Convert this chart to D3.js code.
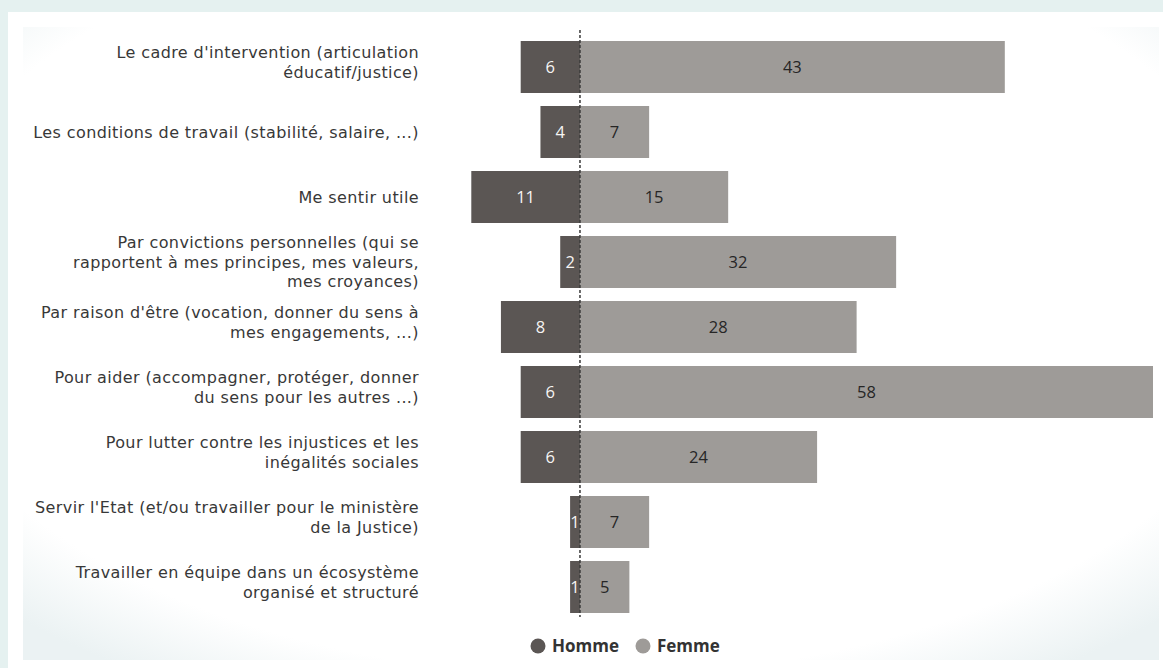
<!DOCTYPE html>
<html>
<head>
<meta charset="utf-8">
<script src="https://cdn.jsdelivr.net/npm/d3@7"></script>
<style>
  html, body { margin: 0; padding: 0; background: #e5f1f0; }
  svg { display: block; }
</style>
</head>
<body>
<svg id="chart" width="1163" height="668"></svg>
<script>
const categories = [
  "Le cadre d'intervention (articulation\néducatif/justice)",
  "Les conditions de travail (stabilité, salaire, ...)",
  "Me sentir utile",
  "Par convictions personnelles (qui se\nrapportent à mes principes, mes valeurs,\nmes croyances)",
  "Par raison d'être (vocation, donner du sens à\nmes engagements, ...)",
  "Pour aider (accompagner, protéger, donner\ndu sens pour les autres ...)",
  "Pour lutter contre les injustices et les\ninégalités sociales",
  "Servir l'Etat (et/ou travailler pour le ministère\nde la Justice)",
  "Travailler en équipe dans un écosystème\norganisé et structuré"
];
const homme = [6, 4, 11, 2, 8, 6, 6, 1, 1];
const femme = [43, 7, 15, 32, 28, 58, 24, 7, 5];
const seriesNames = ["Homme", "Femme"];
const colors = ["#5b5654", "#9e9b98"];

const svg = d3.select("#chart");
const W = 1163, H = 668;

const defs = svg.append("defs");
const rg = defs.append("radialGradient").attr("id", "vign")
  .attr("cx", "50%").attr("cy", "42%").attr("r", "72%");
rg.append("stop").attr("offset", "0%").attr("stop-color", "#ffffff");
rg.append("stop").attr("offset", "84%").attr("stop-color", "#ffffff");
rg.append("stop").attr("offset", "100%").attr("stop-color", "#ebf2f3");

svg.append("rect").attr("x", 0).attr("y", 0).attr("width", W).attr("height", H).attr("fill", "#e5f1f0");
svg.append("rect").attr("x", 8).attr("y", 12).attr("width", W - 8).attr("height", H - 12).attr("fill", "#ffffff");
svg.append("rect").attr("x", 23).attr("y", 27).attr("width", 1136).attr("height", 633).attr("fill", "url(#vign)");

const x = d3.scaleLinear().domain([-11, 58]).range([471.3, 1153]);
const y = d3.scaleBand().domain(categories).range([34.5, 619.5]).paddingInner(0.2).paddingOuter(0.1);

const g = svg.append("g");
const rows = categories.map((c, i) => ({ c, h: homme[i], f: femme[i] }));
const font = "'Open Sans', sans-serif";
const labFont = "'DejaVu Sans', sans-serif";

g.selectAll("rect.h").data(rows).join("rect")
  .attr("class", "h")
  .attr("x", d => x(-d.h)).attr("y", d => y(d.c))
  .attr("width", d => x(0) - x(-d.h)).attr("height", y.bandwidth())
  .attr("fill", colors[0]);
g.selectAll("rect.f").data(rows).join("rect")
  .attr("class", "f")
  .attr("x", x(0)).attr("y", d => y(d.c))
  .attr("width", d => x(d.f) - x(0)).attr("height", y.bandwidth())
  .attr("fill", colors[1]);

g.selectAll("text.hv").data(rows).join("text")
  .attr("class", "hv")
  .attr("x", d => (x(-d.h) + x(0)) / 2)
  .attr("y", d => y(d.c) + y.bandwidth() / 2)
  .attr("dy", "0.36em").attr("text-anchor", "middle")
  .attr("font-family", font).attr("font-size", 16.5)
  .attr("fill", "#f6f4f3")
  .text(d => d.h);
g.selectAll("text.fv").data(rows).join("text")
  .attr("class", "fv")
  .attr("x", d => (x(d.f) + x(0)) / 2)
  .attr("y", d => y(d.c) + y.bandwidth() / 2)
  .attr("dy", "0.36em").attr("text-anchor", "middle")
  .attr("font-family", font).attr("font-size", 16.5)
  .attr("fill", "#262626")
  .text(d => d.f);

g.append("line")
  .attr("x1", x(0)).attr("x2", x(0))
  .attr("y1", 30).attr("y2", 617)
  .attr("stroke", "#3a3a3a").attr("stroke-width", 1.5)
  .attr("stroke-dasharray", "3,2");

const lineH = 19.5;
categories.forEach(c => {
  const lines = c.split("\n");
  const n = lines.length;
  const cy = y(c) + y.bandwidth() / 2 - (n === 2 ? 5 : 0);
  lines.forEach((ln, k) => {
    g.append("text")
      .attr("class", "cat")
      .attr("text-anchor", "end")
      .attr("font-family", labFont).attr("font-size", 16)
      .attr("letter-spacing", 0.4)
      .attr("fill", "#383838")
      .attr("x", 419)
      .attr("y", cy + (k - (n - 1) / 2) * lineH)
      .attr("dy", "0.36em").text(ln);
  });
});

const leg = svg.append("g");
const legX = [538, 643];
seriesNames.forEach((s, i) => {
  leg.append("circle").attr("cx", legX[i]).attr("cy", 646).attr("r", 7.5).attr("fill", colors[i]);
  leg.append("text").attr("x", legX[i] + 14).attr("y", 646).attr("dy", "0.36em")
    .attr("font-family", font).attr("font-size", 17).attr("font-weight", "bold")
    .attr("fill", "#333").text(s);
});
</script>
</body>
</html>
